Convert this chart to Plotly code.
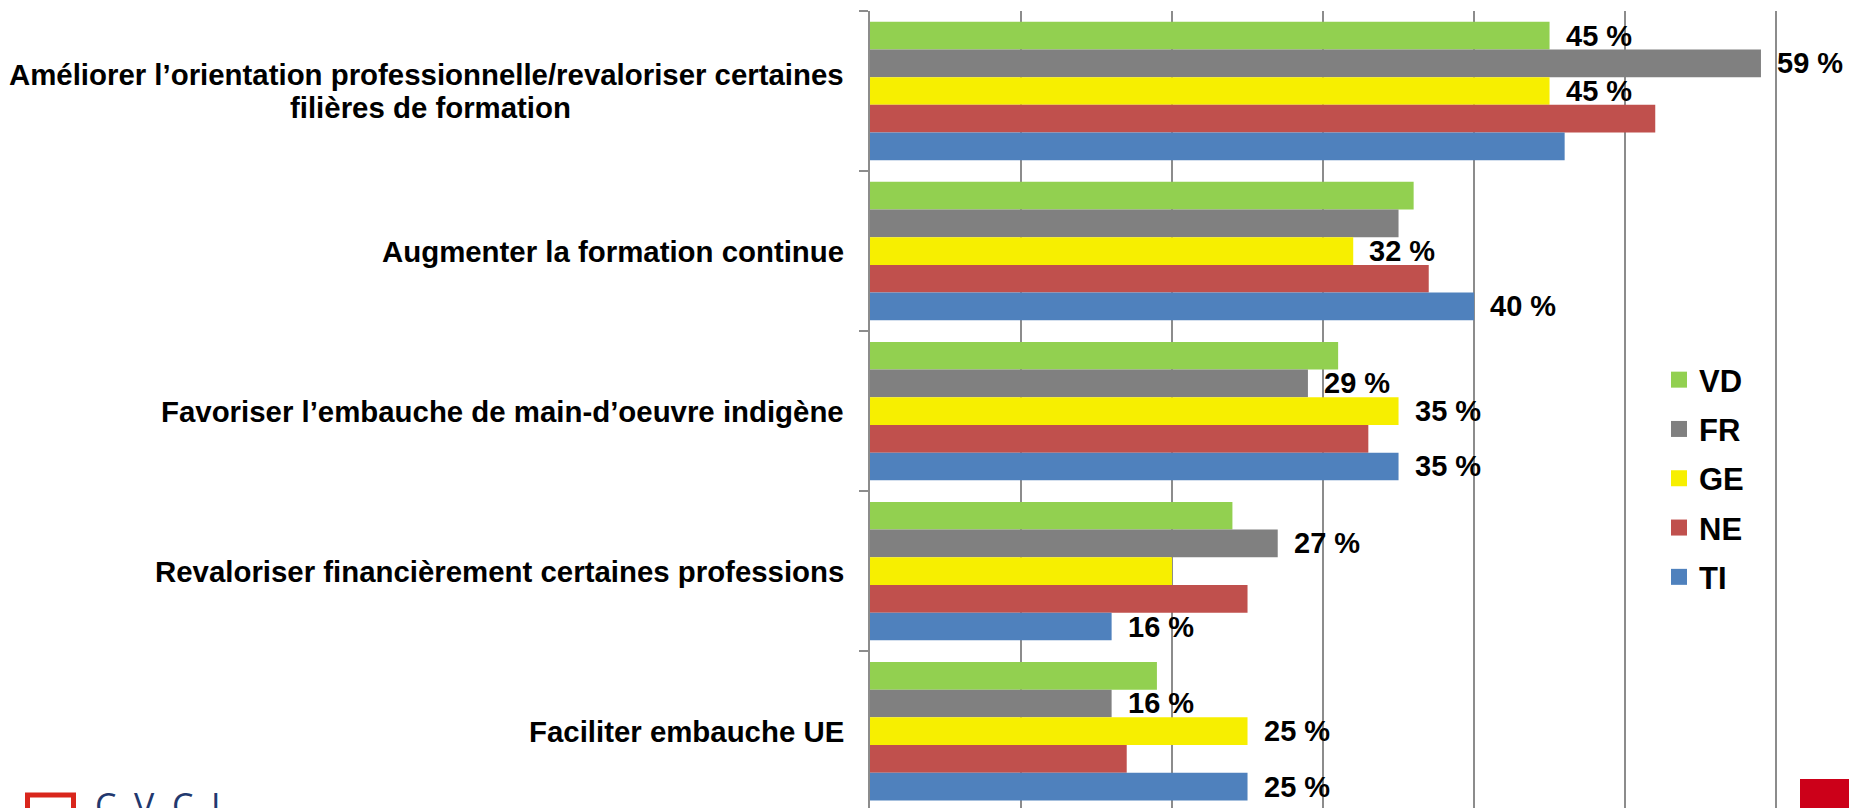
import plotly.graph_objects as go

# Survey answers by canton (share of respondents, %)
categories = [
    "Améliorer l’orientation professionnelle/revaloriser certaines<br>filières de formation",
    "Augmenter la formation continue",
    "Favoriser l’embauche de main-d’oeuvre indigène",
    "Revaloriser financièrement certaines professions",
    "Faciliter embauche UE",
]
series_names = ["VD", "FR", "GE", "NE", "TI"]
vd = [45, 36, 31, 24, 19]
fr = [59, 35, 29, 27, 16]
ge = [45, 32, 35, 20, 25]
ne = [52, 37, 33, 25, 17]
ti = [46, 40, 35, 16, 25]

# 1 = the bar carries a value label
vd_lab = [1, 0, 0, 0, 0]
fr_lab = [1, 0, 1, 1, 1]
ge_lab = [1, 1, 1, 0, 1]
ne_lab = [0, 0, 0, 0, 0]
ti_lab = [0, 1, 1, 1, 1]

colors = ["#92D050", "#808080", "#F7EF00", "#C0504D", "#4F81BD"]

series = [vd, fr, ge, ne, ti]
labels = [vd_lab, fr_lab, ge_lab, ne_lab, ti_lab]

W, H = 1849, 808
LEFT, TOP = 870, 11
X_MAX = 64.83
BARGAP = 0.135
FONT = "Liberation Sans, Arial, sans-serif"
GRID = "#8C8C8C"
CAT_SIZE = 29.4
LINE_STEP = 33          # px between the lines of a wrapped category label
LABEL_CENTER_X = 430    # px, centre of the wrapped category labels

pw, ph = W - LEFT, H - TOP

fig = go.Figure()

for name, vals, col in zip(series_names, series, colors):
    fig.add_trace(go.Bar(
        y=categories, x=vals, orientation="h", name=name,
        marker=dict(color=col, line=dict(width=0)),
        showlegend=False, hoverinfo="skip",
    ))

# legend entries with larger square swatches
for name, col in zip(series_names, colors):
    fig.add_trace(go.Scatter(
        x=[None], y=[None], mode="markers", name=name, legendgroup=name,
        marker=dict(symbol="square", size=16, color=col),
    ))

annotations = []
n = len(series)
bar_w = (1 - BARGAP) / n
for si, (vals, labs) in enumerate(zip(series, labels)):
    for ci, (v, lab) in enumerate(zip(vals, labs)):
        if lab:
            annotations.append(dict(
                x=v, y=ci + (si - (n - 1) / 2) * bar_w, xref="x", yref="y",
                text=f"{v} %", showarrow=False, xanchor="left", yanchor="middle",
                xshift=14,
                font=dict(family=FONT, size=29, color="black", weight="bold"),
            ))

# category labels; wrapped labels are centred line by line
cat_font = dict(family=FONT, size=CAT_SIZE, color="black", weight="bold")
for ci, cat in enumerate(categories):
    lines = cat.split("<br>")
    k = len(lines)
    for j, line in enumerate(lines):
        yshift = ((k - 1) / 2 - j) * LINE_STEP
        if k == 1 or j == 0:
            annotations.append(dict(
                x=0, y=ci, xref="paper", yref="y", text=line, showarrow=False,
                xanchor="right", yanchor="middle", xshift=-24, yshift=yshift,
                font=cat_font,
            ))
        else:
            annotations.append(dict(
                x=(LABEL_CENTER_X - LEFT) / pw, y=ci, xref="paper", yref="y",
                text=line, showarrow=False,
                xanchor="center", yanchor="middle", yshift=yshift,
                font=cat_font,
            ))

# corner logo lettering
annotations.append(dict(
    x=(93 - LEFT) / pw, y=(H - 780) / ph, xref="paper", yref="paper",
    text="C\u00a0\u00a0V\u00a0\u00a0C\u00a0\u00a0I", showarrow=False,
    xanchor="left", yanchor="top",
    font=dict(family="Open Sans, sans-serif", size=34, color="#22386E"),
))

shapes = [
    # logo square outline
    dict(type="rect", xref="paper", yref="paper",
         x0=(27.5 - LEFT) / pw, x1=(73.5 - LEFT) / pw,
         y0=-0.05, y1=(H - 795) / ph,
         line=dict(color="#D9261C", width=5), fillcolor="rgba(0,0,0,0)"),
    # red corner block
    dict(type="rect", xref="paper", yref="paper",
         x0=(1800 - LEFT) / pw, x1=1.01, y0=-0.01, y1=(H - 779) / ph,
         line=dict(width=0), fillcolor="#CC0019"),
]

fig.update_layout(
    width=W, height=H,
    margin=dict(l=LEFT, r=0, t=TOP, b=0, pad=0),
    paper_bgcolor="white", plot_bgcolor="white",
    barmode="group", bargap=BARGAP, bargroupgap=0,
    font=dict(family=FONT, color="black"),
    showlegend=True,
    legend=dict(
        x=(1659 - LEFT) / pw, xanchor="left",
        y=(H - 353) / ph, yanchor="top",
        font=dict(family=FONT, size=31, color="black", weight="bold"),
        tracegroupgap=6, bgcolor="rgba(0,0,0,0)", borderwidth=0,
        itemclick=False, itemdoubleclick=False,
    ),
    annotations=annotations,
    shapes=shapes,
)

fig.update_xaxes(
    range=[0, X_MAX], dtick=10, tick0=0,
    showgrid=True, gridcolor=GRID, gridwidth=1.5,
    zeroline=False, showline=False, showticklabels=False, ticks="",
)
fig.update_yaxes(
    type="category", categoryorder="array", categoryarray=categories,
    range=[4.48, -0.5],
    showline=True, linecolor=GRID, linewidth=2,
    ticks="outside", tickson="boundaries", ticklen=9, tickwidth=2, tickcolor=GRID,
    showticklabels=False, showgrid=False, zeroline=False,
)

fig.write_html("out.html")
